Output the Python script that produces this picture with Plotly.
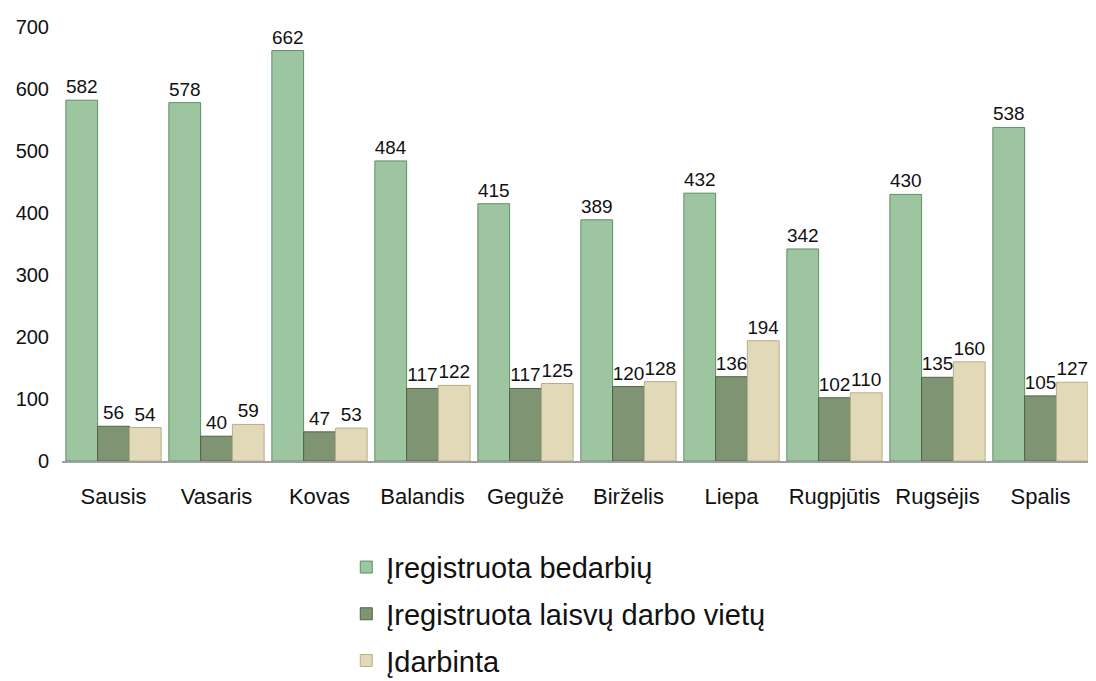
import plotly.graph_objects as go

months = ["Sausis", "Vasaris", "Kovas", "Balandis", "Gegužė", "Birželis", "Liepa", "Rugpjūtis", "Rugsėjis", "Spalis"]
bedarbiu = [582, 578, 662, 484, 415, 389, 432, 342, 430, 538]
laisvu_vietu = [56, 40, 47, 117, 117, 120, 136, 102, 135, 105]
idarbinta = [54, 59, 53, 122, 125, 128, 194, 110, 160, 127]

series = [
    ("Įregistruota bedarbių", bedarbiu, "#9cc5a0", "#5e8f68"),
    ("Įregistruota laisvų darbo vietų", laisvu_vietu, "#7f9472", "#4f6445"),
    ("Įdarbinta", idarbinta, "#e2d9b8", "#b8ad88"),
]

FONT = "Liberation Sans, Arial, sans-serif"

fig = go.Figure()
for i, (name, vals, col, line) in enumerate(series):
    fig.add_trace(go.Bar(
        x=months, y=vals, name=name,
        marker=dict(color=col, line=dict(color=line, width=1)),
        text=[str(v) for v in vals], textposition="outside",
        textfont=dict(size=19, color="#111111", family=FONT),
        cliponaxis=False,
        legendgroup=f"g{i}",
    ))

fig.update_layout(
    width=1096, height=681,
    barmode="group", bargap=0.075, bargroupgap=0,
    plot_bgcolor="white", paper_bgcolor="white",
    margin=dict(l=54, r=12, t=19, b=228, autoexpand=False),
    font=dict(family=FONT, color="#111111"),
    xaxis=dict(showline=True, linecolor="#a0a0a0", linewidth=1.5, ticks="",
               tickfont=dict(size=22), showgrid=False, ticklabelstandoff=15),
    yaxis=dict(range=[0, 700], dtick=100, showgrid=False, zeroline=False,
               showline=False, ticks="", tickfont=dict(size=20), ticklabelstandoff=12),
    legend=dict(orientation="v", x=0.276, xanchor="left", y=-0.186, yanchor="top",
                font=dict(size=29), tracegroupgap=6, bgcolor="rgba(0,0,0,0)"),
    showlegend=True,
)

fig.write_html("out.html")
